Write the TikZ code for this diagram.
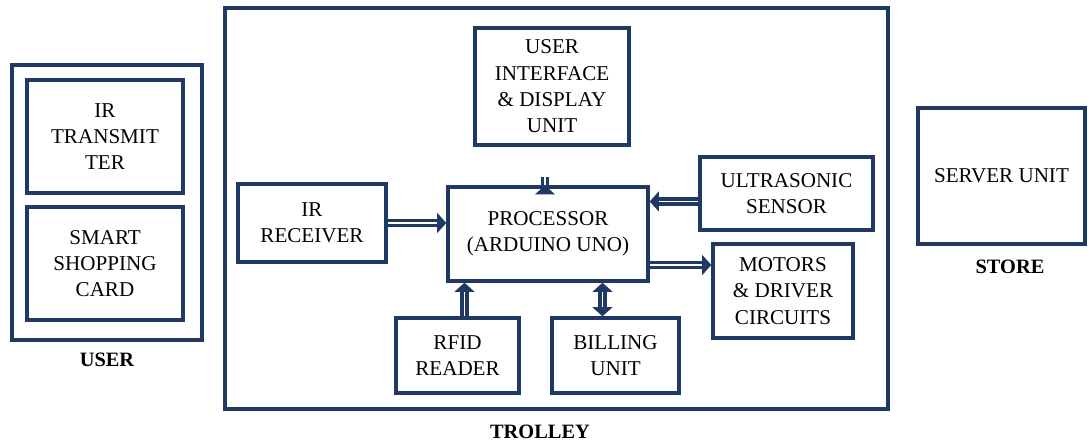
\documentclass[tikz,border=0pt]{standalone}
\usepackage{fontspec}
\setmainfont{Liberation Serif}
\definecolor{navyline}{RGB}{31, 56, 100}
\usetikzlibrary{arrows.meta, positioning, calc}
\newdimen\pxu \pxu=0.025cm

\begin{document}
\begin{tikzpicture}[x=0.025cm, y=-0.025cm,
    blk/.style={draw=navyline, line width=2.4pt, align=center, inner sep=0pt,
                font=\fontsize{15}{18.7}\selectfont},
    grp/.style={draw=navyline, line width=2.4pt, inner sep=0pt},
    tag/.style={font=\fontsize{14.5}{18}\selectfont\bfseries},
    dbl/.style={draw=navyline, double=white, line width=2.2pt, double distance=1.3pt,
                -{Triangle[width=14pt, length=6.5pt]}},
    dblboth/.style={dbl, {Triangle[width=14pt, length=6.5pt]}-{Triangle[width=14pt, length=6.5pt]}}]
    \useasboundingbox (0,0) rectangle (1088,441);
    % user side
    \node[grp, minimum width=190\pxu, minimum height=275\pxu] (user) at (107,202.5) {};
    \node[blk, minimum width=156\pxu, minimum height=113\pxu] (irtx) at (105,136.5) {IR\\TRANSMIT\\TER};
    \node[blk, minimum width=156\pxu, minimum height=113\pxu] (card) at (105,263.5) {SMART\\SHOPPING\\CARD};
    \node[tag] (usertag) at (107,360) {USER};
    % trolley
    \node[grp, minimum width=663\pxu, minimum height=401\pxu] (trolley) at (556.5,208.5) {};
    \node[tag] (trolleytag) at (540,432) {TROLLEY};
    \node[blk, minimum width=154\pxu, minimum height=117\pxu] (ui) at (552,86.5) {USER\\INTERFACE\\\& DISPLAY\\UNIT};
    \node[blk, minimum width=148\pxu, minimum height=78\pxu] (irrx) at (312,223) {IR\\RECEIVER};
    \node[blk, minimum width=200\pxu, minimum height=94\pxu] (proc) at (548,234) {PROCESSOR\\(ARDUINO UNO)};
    \node[blk, minimum width=173\pxu, minimum height=73\pxu] (ultra) at (786.5,193.5) {ULTRASONIC\\SENSOR};
    \node[blk, minimum width=140\pxu, minimum height=94\pxu] (motor) at (783,291) {MOTORS\\\& DRIVER\\CIRCUITS};
    \node[blk, minimum width=123\pxu, minimum height=75\pxu] (rfid) at (457.5,355.5) {RFID\\READER};
    \node[blk, minimum width=127\pxu, minimum height=75\pxu] (bill) at (615.5,355.5) {BILLING\\UNIT};
    % store
    \node[blk, minimum width=167\pxu, minimum height=136\pxu] (server) at (1001.5,176) {SERVER UNIT};
    \node[tag] (storetag) at (1010,267) {STORE};
    % links
    \coordinate (u1) at ($(ultra.west)+(0,8)$);
    \coordinate (m1) at ($(motor.west)+(0,-26)$);
    \coordinate (r1) at ($(rfid.north)+(7,0)$);
    \coordinate (b1) at ($(bill.north)+(-13,0)$);
    \draw[dbl] (irrx.east) -- (irrx.east -| proc.west);
    \draw[dbl] ($(proc.north)+(-3,0)$) -- ($(proc.north)+(-3,0)$ |- ui.south);
    \draw[dbl] (u1) -- (u1 -| proc.east);
    \draw[dbl] (m1 -| proc.east) -- (m1);
    \draw[dbl] (r1) -- (r1 |- proc.south);
    \draw[dblboth] (b1) -- (b1 |- proc.south);
\end{tikzpicture}
\end{document}
